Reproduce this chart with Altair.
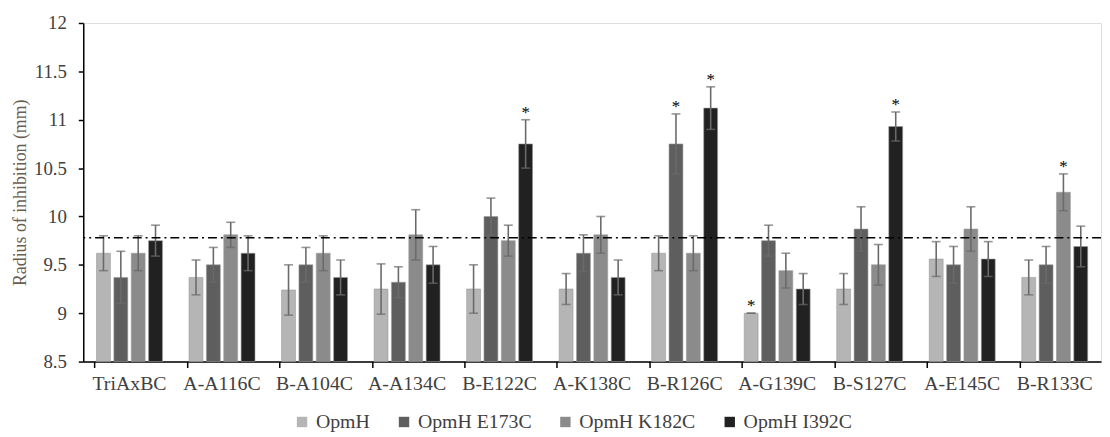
import altair as alt
import pandas as pd

categories = ["TriAxBC", "A-A116C", "B-A104C", "A-A134C", "B-E122C", "A-K138C",
              "B-R126C", "A-G139C", "B-S127C", "A-E145C", "B-R133C"]
series = ["OpmH", "OpmH E173C", "OpmH K182C", "OpmH I392C"]

opmh = [9.62, 9.37, 9.24, 9.25, 9.25, 9.25, 9.62, 9.00, 9.25, 9.56, 9.37]
opmh_err = [0.18, 0.18, 0.26, 0.26, 0.25, 0.16, 0.18, 0.00, 0.16, 0.18, 0.18]
e173c = [9.37, 9.50, 9.50, 9.32, 10.00, 9.62, 10.75, 9.75, 9.87, 9.50, 9.50]
e173c_err = [0.27, 0.18, 0.18, 0.16, 0.19, 0.19, 0.31, 0.16, 0.23, 0.19, 0.19]
k182c = [9.62, 9.81, 9.62, 9.81, 9.75, 9.81, 9.62, 9.44, 9.50, 9.87, 10.25]
k182c_err = [0.18, 0.13, 0.18, 0.26, 0.16, 0.19, 0.18, 0.18, 0.21, 0.23, 0.19]
i392c = [9.75, 9.62, 9.37, 9.50, 10.75, 9.37, 11.12, 9.25, 10.93, 9.56, 9.69]
i392c_err = [0.16, 0.18, 0.18, 0.19, 0.25, 0.18, 0.22, 0.16, 0.15, 0.18, 0.21]

stars = [("B-E122C", "OpmH I392C"), ("B-R126C", "OpmH E173C"), ("B-R126C", "OpmH I392C"),
         ("A-G139C", "OpmH"), ("B-S127C", "OpmH I392C"), ("B-R133C", "OpmH K182C")]

reference_line = 9.78
axis_min = 8.5
colors = ["#b5b5b5", "#5e5e5e", "#8b8b8b", "#212121"]

vals = [opmh, e173c, k182c, i392c]
errs = [opmh_err, e173c_err, k182c_err, i392c_err]
rows = []
for s, v, e in zip(series, vals, errs):
    for c, vv, ee in zip(categories, v, e):
        rows.append({"cat": c, "series": s, "value": vv, "base": axis_min,
                     "lo": vv - ee, "hi": vv + ee,
                     "star": "*" if (c, s) in stars else ""})
df = pd.DataFrame(rows)

FONT = "Liberation Serif"

x = alt.X("cat:N", sort=categories,
          scale=alt.Scale(paddingInner=0.25, paddingOuter=0.125),
          axis=alt.Axis(title=None, labelAngle=0, bandPosition=0, labelFontSize=20,
                        labelFont=FONT, labelColor="#404040", tickSize=6, labelPadding=6,
                        domainColor="#000000", tickColor="#000000", domainWidth=1.5, tickWidth=1.5))
xo = alt.XOffset("series:N", sort=series, scale=alt.Scale(paddingInner=0.2, paddingOuter=0.1))
yscale = alt.Scale(domain=[8.5, 12], nice=False, zero=False)

base = alt.Chart(df)

bars = base.mark_bar(stroke="#9a9a9a", strokeWidth=0.6).encode(
    x=x, xOffset=xo,
    y=alt.Y("value:Q", scale=yscale,
            axis=alt.Axis(title="Radius of inhibition  (mm)", values=[8.5, 9, 9.5, 10, 10.5, 11, 11.5, 12],
                          format=".3~f", grid=False, labelFontSize=19, labelFont=FONT,
                          labelColor="#404040", titleFont=FONT, titleFontSize=18,
                          titleFontWeight="normal", titleColor="#6b5d50", titlePadding=4,
                          tickSize=5, labelPadding=12, domainColor="#000000", tickColor="#000000",
                          domainWidth=1.5, tickWidth=1.5)),
    y2="base:Q",
    color=alt.Color("series:N", sort=series, scale=alt.Scale(domain=series, range=colors),
                    legend=alt.Legend(title=None, orient="none", direction="horizontal",
                                      legendX=211, legendY=393,
                                      symbolType="square", symbolSize=110, symbolStrokeWidth=0,
                                      labelFont=FONT, labelFontSize=20, labelColor="#404040",
                                      columnPadding=24, labelOffset=4)),
)

rules = base.mark_rule(color="#6a6a6a", strokeWidth=1.6).encode(
    x=x, xOffset=xo, y=alt.Y("lo:Q", scale=yscale), y2="hi:Q")
cap_hi = base.mark_tick(color="#6a6a6a", thickness=1.6, size=9).encode(
    x=x, xOffset=xo, y=alt.Y("hi:Q", scale=yscale))
cap_lo = base.mark_tick(color="#6a6a6a", thickness=1.6, size=9).encode(
    x=x, xOffset=xo, y=alt.Y("lo:Q", scale=yscale))

star_text = base.mark_text(font=FONT, fontSize=17, color="#000000",
                           baseline="alphabetic", dy=-2).encode(
    x=x, xOffset=xo, y=alt.Y("hi:Q", scale=yscale), text="star:N")

dash = alt.Chart(pd.DataFrame({"y": [reference_line]})).mark_rule(
    color="#000000", strokeWidth=1.6, strokeDash=[9, 4, 2, 4]).encode(
    y=alt.Y("y:Q", scale=yscale))

chart = alt.layer(bars, rules, cap_hi, cap_lo, dash, star_text).properties(
    width=1028, height=342,
    padding={"left": 3, "top": 4, "right": 0, "bottom": 0},
).configure_view(stroke=None).configure(background="#ffffff")

chart.save("out.html", embed_options={"renderer": "svg", "actions": False})
